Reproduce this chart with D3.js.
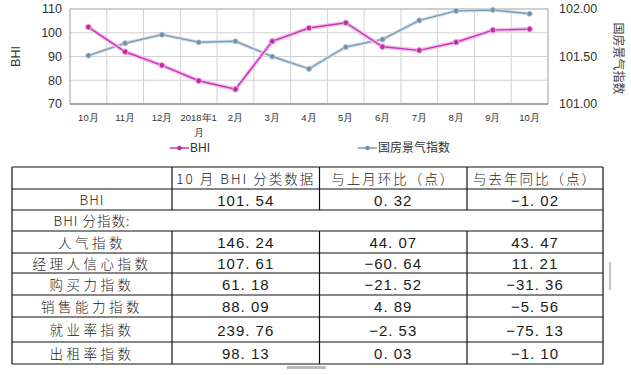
<!DOCTYPE html>
<html>
<head>
<meta charset="utf-8">
<script src="https://cdn.jsdelivr.net/npm/d3@7"></script>
<style>
  html, body { margin: 0; padding: 0; background: #fff; }
  svg { display: block; }
</style>
</head>
<body>
<div id="chart"></div>
<script>
// chart data
var months = ["10月", "11月", "12月", "2018年1\n月", "2月", "3月", "4月", "5月", "6月", "7月", "8月", "9月", "10月"];
var bhi = [102.4, 92.0, 86.3, 79.8, 76.2, 96.4, 102.0, 104.2, 94.1, 92.6, 96.0, 101.1, 101.54];
var guofang = [101.51, 101.64, 101.73, 101.65, 101.66, 101.50, 101.37, 101.60, 101.68, 101.88, 101.98, 101.99, 101.95];
var leftTicks = [70, 80, 90, 100, 110];
var rightTicks = [101.00, 101.50, 102.00];

// table data
var tableHeader = ["", "10 月 BHI 分类数据", "与上月环比（点）", "与去年同比（点）"];
var rowNames = ["BHI", "BHI 分指数:", "人气指数", "经理人信心指数", "购买力指数", "销售能力指数", "就业率指数", "出租率指数"];
var rowValues = ["101.54", null, "146.24", "107.61", "61.18", "88.09", "239.76", "98.13"];
var rowMom = ["0.32", null, "44.07", "-60.64", "-21.52", "4.89", "-2.53", "0.03"];
var rowYoy = ["-1.02", null, "43.47", "11.21", "-31.36", "-5.56", "-75.13", "-1.10"];

var W = 631, H = 375;
var svg = d3.select("#chart").append("svg").attr("width", W).attr("height", H);

var plot = {left: 70, right: 548, top: 9, bottom: 104};

var x = d3.scaleBand().domain(d3.range(months.length)).range([plot.left, plot.right]).padding(0);
var yL = d3.scaleLinear().domain([70, 110]).range([plot.bottom, plot.top]);
var yR = d3.scaleLinear().domain([101, 102]).range([plot.bottom, plot.top]);

var font = "'Liberation Sans', Arial, sans-serif";
var grid = svg.append("g");

// horizontal grid
grid.selectAll("line.h").data(leftTicks).enter().append("line")
    .attr("x1", plot.left).attr("x2", plot.right)
    .attr("y1", function(d){ return yL(d); }).attr("y2", function(d){ return yL(d); })
    .style("stroke", "#d2d2d2").style("stroke-width", 1);

// vertical grid at band edges
grid.selectAll("line.v").data(d3.range(months.length + 1)).enter().append("line")
    .attr("x1", function(i){ return plot.left + i * x.bandwidth(); })
    .attr("x2", function(i){ return plot.left + i * x.bandwidth(); })
    .attr("y1", plot.top).attr("y2", plot.bottom)
    .style("stroke", "#d2d2d2").style("stroke-width", 1);

// plot frame
svg.append("rect")
    .attr("x", plot.left).attr("y", plot.top)
    .attr("width", plot.right - plot.left).attr("height", plot.bottom - plot.top)
    .style("fill", "none").style("stroke", "#b5b5b5");
svg.append("line")
    .attr("x1", plot.left).attr("x2", plot.right)
    .attr("y1", plot.bottom).attr("y2", plot.bottom)
    .style("stroke", "#999").style("stroke-width", 1.5);

// left axis labels
svg.append("g").selectAll("text").data(leftTicks).enter().append("text")
    .attr("x", plot.left - 8).attr("y", function(d){ return yL(d); })
    .attr("dy", "0.35em").attr("text-anchor", "end")
    .style("font-family", font).style("font-size", "12.5px").style("fill", "#333")
    .text(function(d){ return d; });

// right axis labels
svg.append("g").selectAll("text").data(rightTicks).enter().append("text")
    .attr("x", plot.right + 11).attr("y", function(d){ return yR(d); })
    .attr("dy", "0.35em").attr("text-anchor", "start")
    .style("font-family", font).style("font-size", "12.5px").style("fill", "#333")
    .text(function(d){ return d.toFixed(2); });

// x labels
var xl = svg.append("g").selectAll("text").data(months).enter().append("text")
    .attr("x", function(d, i){ return x(i) + x.bandwidth() / 2; })
    .attr("y", 118)
    .attr("text-anchor", "middle")
    .style("font-family", font).style("font-size", "9.5px").style("fill", "#333");
xl.each(function(d){
  var t = d3.select(this);
  d.split("\n").forEach(function(part, k){
    t.append("tspan").attr("x", t.attr("x")).attr("dy", k === 0 ? "0.35em" : "1.5em").text(part);
  });
});

// axis titles
svg.append("text")
    .attr("transform", "translate(20," + ((plot.top + plot.bottom) / 2) + ") rotate(-90)")
    .attr("text-anchor", "middle")
    .style("font-family", font).style("font-size", "12.5px").style("fill", "#333")
    .text("BHI");
svg.append("text")
    .attr("transform", "translate(614," + ((plot.top + plot.bottom) / 2 + 2) + ") rotate(90)")
    .attr("text-anchor", "middle")
    .style("font-family", "'Noto Sans CJK SC', sans-serif").style("font-size", "12px").style("fill", "#444")
    .text("国房景气指数");

// lines
var cx = function(d, i){ return x(i) + x.bandwidth() / 2; };
var magenta = "#cc33bb", blue = "#7f9db4";

svg.append("path")
    .datum(guofang)
    .attr("d", d3.line().x(cx).y(function(d){ return yR(d); }))
    .style("fill", "none").style("stroke", "#d3dee8").style("stroke-width", 3.5);
svg.append("path")
    .datum(guofang)
    .attr("d", d3.line().x(cx).y(function(d){ return yR(d); }))
    .style("fill", "none").style("stroke", blue).style("stroke-width", 1.4);
svg.append("g").selectAll("circle").data(guofang).enter().append("circle")
    .attr("cx", cx).attr("cy", function(d){ return yR(d); }).attr("r", 2.6)
    .style("fill", "#6f90ab").style("stroke", "#b7c8d6").style("stroke-width", 0.8);

svg.append("path")
    .datum(bhi)
    .attr("d", d3.line().x(cx).y(function(d){ return yL(d); }))
    .style("fill", "none").style("stroke", "#f1c0ea").style("stroke-width", 4);
svg.append("path")
    .datum(bhi)
    .attr("d", d3.line().x(cx).y(function(d){ return yL(d); }))
    .style("fill", "none").style("stroke", magenta).style("stroke-width", 1.4);
svg.append("g").selectAll("circle").data(bhi).enter().append("circle")
    .attr("cx", cx).attr("cy", function(d){ return yL(d); }).attr("r", 2.8)
    .style("fill", "#c02aa8").style("stroke", "#eaa6e0").style("stroke-width", 1);

// legend
var legend = [
  {name: "BHI", color: magenta, fill: "#c02aa8", x: 170},
  {name: "国房景气指数", color: blue, fill: "#6f90ab", x: 358}
];
var lg = svg.append("g").selectAll("g").data(legend).enter().append("g")
    .attr("transform", function(d){ return "translate(" + d.x + ",148)"; });
lg.append("line").attr("x1", 0).attr("x2", 19)
    .style("stroke", function(d){ return d.color; }).style("stroke-width", 1.5);
lg.append("circle").attr("cx", 9.5).attr("r", 2.3).style("fill", function(d){ return d.fill; });
lg.append("text").attr("x", 20).attr("dy", "0.35em")
    .style("font-family", "'Liberation Sans', 'Noto Sans CJK SC', sans-serif").style("font-size", "12px").style("fill", "#333")
    .text(function(d){ return d.name; });

// table
var colX = [12, 172, 319.5, 467, 603];
var rowY = [167, 189, 210, 231, 253, 273, 295, 317, 342, 364];
var tfont = "'Noto Sans CJK SC', sans-serif";
var tbl = svg.append("g");

var rows = [tableHeader].concat(rowNames.map(function(n, i){
  return [n, rowValues[i], rowMom[i], rowYoy[i]];
}));

// horizontal rules
tbl.selectAll("line.h").data(rowY).enter().append("line")
    .attr("x1", colX[0]).attr("x2", colX[4])
    .attr("y1", function(d){ return d; }).attr("y2", function(d){ return d; })
    .style("stroke", "#111").style("stroke-width", 1.2);

// vertical rules (skip inside spanning row)
rows.forEach(function(r, ri){
  var spanning = r[1] === null;
  colX.forEach(function(cxv, ci){
    if (spanning && ci > 0 && ci < 4) return;
    tbl.append("line")
        .attr("x1", cxv).attr("x2", cxv)
        .attr("y1", rowY[ri]).attr("y2", rowY[ri + 1])
        .style("stroke", "#111").style("stroke-width", 1.2);
  });
  r.forEach(function(cell, ci){
    if (cell === null || cell === "") return;
    var isNum = ri > 0 && ci > 0;
    var isHan = ci === 0 && ri > 2;
    tbl.append("text")
        .attr("x", (colX[ci] + colX[ci + 1]) / 2)
        .attr("y", (rowY[ri] + rowY[ri + 1]) / 2 + 1)
        .attr("dy", "0.35em")
        .attr("text-anchor", "middle")
        .style("font-family", isNum ? "'Liberation Sans Narrow', 'Liberation Sans', sans-serif" : tfont)
        .style("font-size", isNum ? "15px" : "13.5px")
        .style("font-weight", isNum ? 400 : 300)
        .style("letter-spacing", isHan ? "3.5px" : (ri === 0 ? "2px" : "1px"))
        .style("fill", isNum ? "#1a1a1a" : "#222")
        .text(isNum ? cell.replace("-", "−").replace(".", ". ") : cell);
  });
});

// scan artefacts
svg.append("rect").attr("x", 287).attr("y", 366).attr("width", 39).attr("height", 3).style("fill", "#bbb");
svg.append("line").attr("x1", 610).attr("x2", 610).attr("y1", 262).attr("y2", 290)
    .style("stroke", "#888").style("stroke-width", 1);
</script>
</body>
</html>
